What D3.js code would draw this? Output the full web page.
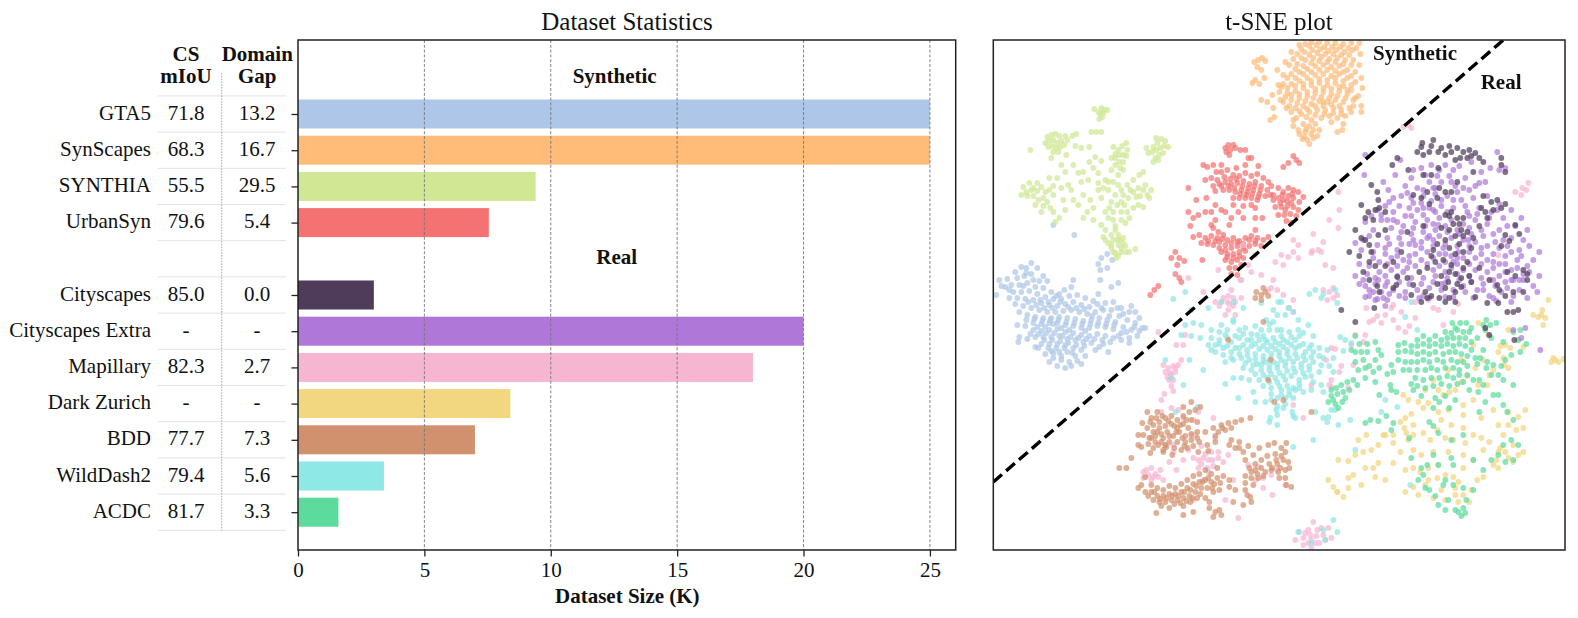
<!DOCTYPE html>
<html><head><meta charset="utf-8">
<script src="https://cdn.jsdelivr.net/npm/d3@7/dist/d3.min.js"></script>
<style>html,body{margin:0;padding:0;background:#fff}svg{display:block}text{font-family:"Liberation Serif","Times New Roman",serif;fill:#111}</style>
</head><body><svg id="c" width="1578" height="618"></svg>
<script>
const rows=["GTA5","SynScapes","SYNTHIA","UrbanSyn","","Cityscapes","Cityscapes Extra","Mapillary","Dark Zurich","BDD","WildDash2","ACDC"];
const sizes=[25,25,9.4,7.55,null,3,20,18,8.4,7,3.4,1.6];
const miou=["71.8","68.3","55.5","79.6","","85.0","-","82.3","-","77.7","79.4","81.7"];
const gap=["13.2","16.7","29.5","5.4","","0.0","-","2.7","-","7.3","5.6","3.3"];
const colors=["#aec7e8","#ffbb78","#d0e794","#f47272",null,"#4f3b5a","#af78d8","#f6b6d2","#f3d680","#d2916e","#8de8e6","#5cdc9c"];
const xTicks=[0,5,10,15,20,25];

const ptsGTA5=[[6,240],[14,239],[22,232],[28,227],[33,228],[38,223],[44,228],[50,236],[24,238],[31,236],[38,234],[46,241],[54,241],[12,247],[18,245],[26,245],[34,243],[42,247],[50,248],[58,252],[66,254],[20,252],[28,252],[36,251],[44,254],[52,257],[60,259],[68,259],[76,256],[84,255],[92,258],[100,261],[105,254],[114,214],[108,218],[105,224],[107,230],[114,228],[119,220],[60,185],[81,195],[107,240],[118,247],[125,243],[80,240],[78,247],[3,255],[16,258],[24,258],[32,259],[40,260],[48,263],[56,265],[64,266],[72,264],[80,262],[88,265],[96,267],[104,264],[112,263],[120,262],[128,268],[136,272],[142,272],[146,278],[138,266],[22,264],[30,266],[38,268],[46,270],[54,272],[62,272],[70,271],[78,270],[86,272],[94,274],[102,272],[110,270],[118,270],[126,276],[134,280],[142,283],[149,288],[26,272],[34,275],[42,277],[50,278],[58,278],[66,277],[74,278],[82,279],[90,281],[98,280],[106,278],[114,280],[122,282],[130,287],[138,290],[146,291],[152,288],[40,283],[48,284],[56,283],[64,283],[72,285],[80,286],[88,288],[96,288],[104,286],[112,287],[120,289],[128,293],[136,298],[144,296],[24,285],[32,286],[40,290],[48,291],[56,290],[64,289],[72,292],[80,293],[88,295],[96,296],[104,294],[112,296],[120,298],[128,300],[136,303],[26,297],[34,299],[25,302],[42,297],[50,297],[58,297],[66,296],[74,299],[82,300],[90,302],[98,303],[110,304],[48,304],[56,304],[64,304],[72,305],[80,308],[88,310],[45,308],[58,311],[66,312],[74,312],[82,316],[92,316],[52,314],[60,318],[68,320],[76,322],[84,321],[78,326],[88,324],[56,322],[64,326],[72,328],[42,307],[102,310],[106,307],[115,312],
[35,262],[43,265],[51,268],[59,268],[67,262],[75,267],[83,268],[91,269],[33,280],[41,279],[49,281],[57,280],[65,280],[73,282],[81,283],[89,284],[97,284],[105,283],[113,284],[121,285],[37,294],[45,294],[53,293],[61,293],[69,296],[77,297],[85,298],[93,299],[101,299],[109,300],[117,302],[125,296],[133,292],[141,287],[51,300],[59,300],[67,301],[75,303],[83,305],[91,306],[55,308],[63,308],[71,308],[79,313],[60,313],[68,316],[16,250],[30,246],[8,246],[40,240],[33,233],[47,260],[55,262],[63,256],[71,250],[116,276],[108,268],[99,276],[130,274],[124,268],[92,291],[52,287],[60,284],[68,288],[76,290],[44,287]];

const ptsSyn=[[265,20],[261,22],[269,18],[272,21],[264,27],[268,30],[262,40],[259,43],[266,44],[271,38],[277,80],[281,77],[268,60],[274,62],[279,55],[285,45],[290,35],[287,60],[293,68],[298,72],[303,78],[284,30],[292,22],[298,12],[306,5],[312,4],[318,2],[326,2],[334,3],[342,3],[350,4],[358,3],[366,3],[304,14],[311,12],[319,10],[327,9],[335,11],[343,10],[351,12],[359,10],[367,14],[296,25],[304,24],[312,20],[320,18],[328,17],[336,19],[344,18],[352,20],[360,20],[366,25],[298,34],[306,32],[314,29],[322,26],[330,25],[338,27],[346,26],[354,30],[362,32],[368,38],[290,44],[298,44],[306,41],[314,38],[322,35],[330,34],[338,36],[346,34],[354,38],[362,42],[286,52],[294,53],[302,51],[310,48],[318,45],[326,43],[334,45],[342,43],[350,46],[358,50],[290,62],[298,60],[306,58],[314,56],[322,53],[330,52],[338,54],[346,51],[354,54],[362,58],[360,66],[368,66],[302,68],[310,66],[318,64],[326,61],[334,62],[342,60],[350,62],[358,72],[348,70],[340,68],[332,70],[324,70],[316,72],[308,74],[368,72],[352,76],[344,78],[336,76],[328,78],[318,80],[300,86],[310,84],[316,86],[322,84],[326,90],[318,94],[312,92],[306,94],[314,100],[320,98],[324,96],[311,97],[316,104],[330,62],[300,80],[338,82],[350,84],[365,56],[369,48],[280,68],[349,90],[344,92],
[308,9],[316,6],[323,5],[331,7],[339,7],[347,7],[355,8],[363,8],[300,19],[308,18],[316,15],[324,13],[332,14],[340,14],[348,15],[356,15],[302,29],[310,26],[318,23],[326,21],[334,22],[342,22],[350,24],[358,25],[294,38],[302,38],[310,34],[318,32],[326,30],[334,30],[342,31],[350,32],[358,36],[288,47],[294,48],[302,46],[310,44],[318,41],[326,39],[334,40],[342,38],[350,41],[358,45],[292,57],[298,55],[306,54],[314,52],[322,49],[330,48],[338,49],[346,47],[354,50],[296,66],[304,63],[312,61],[320,58],[328,57],[336,58],[344,56],[352,58],[360,60],[306,71],[314,69],[322,66],[330,66],[338,64],[346,66],[356,68],[313,77],[322,75],[331,74],[340,73],[348,74],[305,90],[313,89],[320,90],[309,99]];

const ptsSynthia=[[101,69],[105,72],[108,68],[111,70],[114,70],[107,74],[109,77],[106,79],[110,73],[54,97],[58,95],[62,94],[66,96],[52,103],[56,101],[60,100],[64,103],[68,101],[55,107],[59,106],[63,108],[67,107],[60,112],[65,112],[71,105],[74,100],[79,96],[83,94],[72,96],[37,110],[58,118],[73,115],[82,106],[88,108],[96,107],[98,92],[103,92],[108,92],[102,117],[108,121],[153,108],[160,107],[164,103],[163,98],[168,99],[172,101],[175,107],[155,113],[159,112],[163,110],[167,108],[171,106],[162,118],[166,115],[170,113],[160,122],[165,120],[120,107],[125,110],[130,115],[129,106],[122,125],[130,130],[134,110],[130,122],[133,103],[127,128],[118,130],[112,140],[105,133],[100,128],[96,122],[90,132],[85,133],[95,140],[105,143],[110,148],[36,143],[30,147],[33,152],[40,148],[44,151],[48,147],[44,143],[28,155],[34,156],[40,156],[45,160],[50,158],[54,162],[50,166],[42,165],[57,168],[60,172],[48,172],[60,155],[68,148],[70,160],[72,170],[66,178],[62,182],[78,150],[72,132],[64,138],[56,138],[68,125],[80,125],[88,142],[90,155],[97,160],[100,168],[94,172],[85,165],[108,158],[115,150],[120,142],[128,150],[134,145],[140,140],[146,135],[150,132],[145,148],[152,145],[158,150],[154,155],[147,156],[140,152],[135,158],[128,162],[122,155],[118,162],[112,172],[120,172],[128,172],[115,178],[120,180],[128,180],[134,172],[140,168],[136,178],[100,180],[90,178],[145,165],[150,167],[112,190],[118,195],[110,197],[115,203],[118,208],[122,213],[125,205],[128,208],[132,206],[127,200],[120,200],[125,195],[122,190],[130,198],[123,218],[128,212],[133,212],[136,212],[142,209],[132,183],[122,186],[108,185],
[126,115],[122,114],[118,118],[126,122],[122,118],[133,116],[125,135],[115,142],[125,145],[130,155],[137,150],[143,157],[150,150],[156,158],[131,165],[124,165],[116,168],[105,150],[80,160],[75,145],[60,146],[56,150],[38,150],[52,152],[118,205],[112,200],[124,200],[130,203],[120,212],[125,216]];

const ptsUrban=[[235,105],[240,105],[232,108],[237,110],[242,108],[236,115],[233,112],[247,110],[252,110],[255,118],[258,118],[228,125],[220,125],[214,127],[210,125],[243,128],[252,125],[265,126],[212,140],[218,138],[224,140],[228,132],[234,130],[240,135],[246,136],[252,133],[258,136],[264,134],[270,138],[275,142],[278,146],[220,146],[226,144],[232,142],[238,144],[244,143],[250,141],[256,144],[262,142],[268,146],[274,150],[230,150],[236,150],[242,152],[248,150],[254,152],[260,150],[266,154],[272,156],[277,155],[240,158],[246,158],[252,158],[258,158],[264,160],[240,165],[250,166],[258,165],[262,168],[195,148],[203,160],[213,158],[212,172],[222,165],[228,170],[232,172],[238,178],[236,185],[245,172],[250,178],[262,178],[269,178],[195,172],[200,178],[197,186],[205,175],[218,172],[222,180],[220,188],[218,185],[225,192],[200,197],[206,195],[212,198],[218,196],[224,198],[230,195],[234,200],[240,198],[246,201],[252,198],[258,196],[264,198],[270,200],[275,197],[262,190],[208,203],[214,204],[220,205],[226,202],[232,205],[238,208],[244,206],[250,204],[256,206],[262,204],[268,206],[228,212],[234,214],[240,214],[246,212],[252,211],[232,220],[238,222],[244,220],[250,218],[236,228],[242,228],[248,225],[238,234],[244,235],[182,212],[178,218],[186,218],[191,221],[184,225],[182,234],[186,238],[188,242],[165,246],[161,250],[157,255],[209,220],[295,123],[303,120],[306,123],[300,116],[290,127],[280,155],[285,148],[290,152],[295,148],[300,150],[305,152],[310,157],[280,160],[285,158],[290,160],[295,156],[300,158],[306,162],[282,167],[288,167],[294,166],[300,167],[305,170],[285,175],[291,175],[297,174],[303,176],[293,181],[298,183],
[223,132],[231,137],[237,139],[243,139],[249,146],[255,148],[261,146],[267,150],[235,146],[241,148],[228,146],[222,151],[247,154],[253,155],[259,154],[265,157],[226,208],[232,210],[238,203],[244,202],[250,208],[256,200],[262,201],[215,201],[222,201],[229,199],[240,218],[246,216],[234,217],[289,155],[294,161],[299,154],[292,170],[298,163],[287,163]];

const ptsPurple=[[414,153],[372,115],[371,135],[390,142],[395,150],[407,120],[402,135],[418,138],[428,128],[438,125],[446,130],[456,136],[466,126],[478,122],[488,132],[504,112],[506,130],[512,128],[497,128],[486,143],[476,150],[462,146],[448,142],[436,142],[424,148],[412,146],[400,158],[392,166],[384,170],[378,176],[372,182],[394,180],[406,166],[418,158],[430,156],[442,154],[454,156],[468,160],[480,158],[494,156],[506,164],[518,170],[528,178],[534,190],[522,186],[510,178],[498,172],[486,168],[474,172],[460,168],[448,166],[436,168],[424,170],[412,176],[400,172],[388,180],[380,190],[398,188],[410,186],[422,182],[434,180],[446,178],[458,180],[470,184],[482,180],[494,184],[506,190],[518,198],[530,200],[546,212],[536,206],[526,210],[514,206],[502,202],[490,196],[478,194],[466,194],[454,192],[442,190],[430,192],[418,194],[406,198],[394,198],[384,205],[376,196],[370,200],[362,203],[368,210],[380,212],[392,208],[404,210],[416,204],[428,202],[440,200],[452,204],[464,206],[476,206],[488,208],[500,214],[512,216],[524,220],[534,226],[546,236],[530,234],[518,230],[506,224],[494,220],[482,218],[470,218],[458,216],[446,214],[434,212],[422,214],[410,220],[398,218],[386,222],[376,226],[366,224],[362,236],[374,234],[386,232],[398,230],[410,232],[422,226],[434,224],[446,226],[458,228],[470,230],[482,230],[494,232],[506,236],[518,240],[530,240],[540,246],[544,252],[526,250],[514,248],[502,246],[490,244],[478,242],[466,240],[454,238],[442,236],[430,238],[418,238],[406,242],[394,242],[382,244],[372,246],[376,256],[388,252],[400,250],[412,252],[424,250],[436,248],[448,250],[460,250],[472,252],[484,250],[496,256],[508,252],[520,256],[534,258],[390,258],[372,257],[376,250],[384,259],[394,260],[412,258],[426,258],[436,258],[452,257],[460,257],[480,258],[503,261],[518,262],[520,240],[532,288],[520,290],[528,298],[547,310],[440,170],[430,175],[445,185],[436,196],[450,208],[460,222],[440,230],[452,243],[465,212],[475,200],[422,205],[414,228],[404,182],[394,224],[382,260],[392,266],[500,258],
[420,130],[432,135],[444,136],[452,125],[460,130],[472,138],[482,146],[492,142],[470,148],[458,142],[442,148],[430,150],[420,163],[408,156],[396,162],[388,175],[400,180],[416,168],[428,163],[438,161],[448,160],[460,160],[472,166],[484,174],[496,178],[504,170],[514,186],[454,172],[442,172],[430,168],[418,176],[408,192],[420,188],[432,186],[440,184],[452,186],[464,190],[476,188],[488,190],[500,194],[510,200],[518,212],[528,216],[540,220],[396,204],[408,204],[420,200],[434,198],[446,196],[458,198],[470,200],[482,202],[494,206],[506,208],[380,218],[392,214],[404,216],[416,216],[428,208],[440,206],[452,214],[464,218],[476,212],[488,214],[500,222],[512,224],[524,228],[536,232],[370,240],[382,238],[392,236],[404,226],[416,222],[428,220],[440,218],[452,222],[464,224],[476,224],[488,224],[500,228],[512,232],[526,240],[380,252],[392,246],[404,236],[416,244],[428,244],[440,242],[452,232],[464,234],[476,236],[488,238],[500,240],[512,242],[490,250],[470,246],[448,244],[430,256],[406,256],[396,254],[385,240],[366,244],[440,148],[464,152],[476,176]];

const ptsBlack=[[429,103],[440,100],[424,112],[430,115],[436,112],[428,107],[445,112],[452,115],[458,112],[464,108],[470,112],[476,110],[482,113],[486,118],[467,118],[404,118],[399,125],[415,130],[490,122],[480,132],[508,125],[512,132],[508,118],[378,145],[384,152],[385,160],[382,170],[386,168],[392,172],[375,172],[430,135],[438,135],[446,148],[452,152],[458,152],[464,142],[434,152],[420,155],[428,158],[436,164],[444,158],[490,156],[498,162],[504,160],[508,168],[492,172],[488,168],[452,175],[458,172],[464,178],[470,178],[448,188],[456,190],[468,190],[462,196],[474,192],[480,198],[486,186],[430,186],[368,198],[362,190],[372,200],[376,205],[378,212],[385,195],[392,190],[414,192],[522,185],[512,195],[526,194],[516,201],[508,206],[466,204],[478,208],[440,210],[450,220],[458,225],[462,234],[470,228],[476,236],[478,242],[486,228],[496,240],[504,245],[514,232],[522,236],[530,230],[534,234],[356,212],[366,216],[376,222],[370,232],[382,226],[392,226],[400,222],[408,212],[404,237],[414,238],[420,245],[426,232],[434,228],[376,240],[386,252],[384,246],[400,248],[444,244],[452,248],[432,252],[438,256],[468,247],[462,252],[446,258],[452,262],[428,262],[434,258],[418,255],[462,262],[482,257],[506,250],[512,256],[520,252],[530,252],[494,263],[505,263],[381,268],[520,272],[525,270],[348,270],[362,282],[492,288],[496,295],[514,272],[456,258],[403,245],[534,240],[521,300],
[456,176],[460,184],[470,196],[466,184],[452,200],[456,208],[444,204],[462,214],[470,212],[442,222],[456,232],[468,238],[448,236],[438,216],[474,222],[464,244],[455,242],[445,128],[462,120],[474,118],[438,106],[448,108],[456,106],[478,116],[372,178],[368,165],[380,180],[500,170],[494,178],[512,164]];

const ptsCyan=[[240,262],[250,268],[268,263],[288,262],[207,298],[218,298],[226,300],[232,295],[228,285],[234,290],[240,280],[246,290],[252,288],[258,294],[264,295],[270,296],[276,290],[280,282],[284,275],[273,280],[262,286],[288,290],[292,275],[280,270],[285,262],[295,268],[300,272],[272,300],[280,298],[288,296],[296,292],[305,290],[315,285],[310,293],[320,296],[318,305],[305,280],[215,305],[222,305],[230,308],[238,302],[246,298],[254,300],[262,304],[270,306],[278,306],[286,304],[294,302],[302,300],[310,304],[320,312],[326,308],[330,318],[334,310],[222,312],[230,315],[238,312],[246,308],[254,310],[262,314],[270,316],[278,314],[286,312],[294,310],[302,308],[312,312],[232,322],[240,320],[248,318],[256,320],[264,324],[272,322],[280,322],[288,320],[296,318],[304,318],[312,320],[320,322],[328,325],[340,318],[250,328],[258,330],[268,330],[276,330],[284,328],[292,326],[300,328],[308,328],[316,330],[326,332],[340,332],[248,338],[256,340],[266,340],[274,338],[282,338],[290,336],[298,336],[306,340],[312,337],[320,342],[328,345],[240,338],[232,344],[270,346],[278,348],[286,346],[294,346],[300,348],[306,348],[288,355],[296,355],[302,350],[310,352],[318,350],[330,352],[278,360],[284,358],[292,358],[300,358],[272,362],[262,362],[245,358],[210,330],[215,268],[228,262],[188,295],[192,285],[200,283],[198,270],[192,252],[180,259],[218,290],[208,285],[198,296],[283,370],[290,368],[284,375],[277,378],[299,372],[276,382],[300,376],[260,352],[284,385],[302,378],[345,385],[357,380],[322,372],[330,378],[338,370],[320,400],[335,377],[342,370],[334,382],[362,410],[300,407],[347,297],[352,300],[358,303],[350,311],[412,277],[424,290],[316,254],[322,250],[330,254],[342,250],[344,263],[328,258],[417,445],[340,480],[332,500],[344,492],[330,490],[318,503],[305,492],[404,367],[182,372],[204,367],[190,345],[178,338],[196,320],[172,320],[240,282],[418,262],[388,372],[392,360],
[226,292],[234,298],[242,296],[250,294],[258,300],[266,300],[274,302],[282,302],[290,300],[298,297],[306,296],[284,290],[276,284],[268,290],[218,310],[226,304],[234,306],[242,308],[250,305],[258,306],[266,309],[274,310],[282,309],[290,307],[298,305],[306,306],[316,308],[326,316],[238,318],[246,314],[254,315],[262,319],[270,320],[278,318],[286,316],[294,314],[302,314],[310,316],[318,317],[252,323],[260,325],[268,325],[276,326],[284,324],[292,322],[300,322],[308,324],[316,326],[336,326],[262,334],[270,335],[278,334],[286,333],[294,331],[302,332],[310,333],[318,336],[306,344],[292,340],[284,342],[276,342],[296,351],[288,350],[278,354],[284,366],[292,364]];

const ptsPink=[[170,325],[175,328],[180,326],[185,325],[172,332],[177,333],[182,332],[176,340],[180,340],[178,346],[171,354],[180,351],[230,258],[235,256],[240,258],[228,262],[236,264],[242,262],[222,262],[248,258],[235,270],[242,275],[232,275],[290,255],[284,250],[278,248],[158,428],[150,432],[155,435],[162,434],[167,430],[150,438],[158,440],[165,437],[170,440],[210,418],[215,420],[208,424],[214,428],[220,426],[205,428],[225,418],[230,422],[235,415],[218,412],[195,410],[200,418],[190,420],[180,412],[172,405],[183,430],[176,422],[262,440],[270,438],[278,435],[284,430],[265,427],[292,445],[279,455],[270,448],[202,395],[208,406],[222,398],[178,368],[168,372],[205,372],[220,378],[310,498],[315,490],[320,482],[324,490],[330,495],[318,500],[310,505],[306,492],[335,488],[326,503],[318,508],[322,503],[338,498],[302,500],[330,250],[336,252],[340,258],[334,260],[344,255],[340,248],[300,272],[296,268],[300,260],[380,280],[376,282],[384,276],[388,283],[373,268],[392,275],[362,295],[358,305],[372,295],[360,325],[370,302],[405,288],[412,292],[416,286],[422,278],[400,280],[408,272],[398,268],[422,262],[400,265],[338,308],[342,309],[333,320],[346,332],[348,326],[355,348],[318,345],[300,365],[310,378],[338,347],[338,340],[336,345],[319,211],[325,210],[328,212],[318,213],[288,215],[295,217],[300,212],[305,218],[290,225],[282,222],[300,200],[305,205],[320,194],[336,180],[345,188],[332,225],[340,228],[415,85],[410,87],[418,88],[505,215],[497,240],[529,148],[533,150],[528,155],[522,152],[535,143],[345,152],[346,170],[330,202],[280,240],[268,235],[275,250],[255,225],[258,232],[262,215],[250,205],[248,240],[247,240],[238,250],[225,230],[210,252],[195,238],[165,292],[183,305],[190,305],[188,320],[192,295],[168,360],[185,370],[190,378],[180,405],[200,380],[198,396],[210,440],[240,440],[255,425],[435,260],[440,268],[445,270],[450,285],[460,272],[465,264],[245,478],[232,460],[200,460],
[174,337],[178,335],[182,328],[153,430],[160,437],[212,414],[219,420],[225,412],[215,432],[205,420],[312,493],[317,495],[323,496],[328,488],[315,503],[332,500],[234,262],[240,266],[226,266]];

const ptsYellow=[[555,260],[548,275],[552,278],[550,285],[545,277],[549,270],[485,283],[507,306],[512,305],[517,308],[505,312],[510,318],[511,325],[515,328],[570,319],[565,322],[562,320],[558,322],[560,318],[490,320],[482,328],[474,336],[468,342],[462,350],[456,352],[450,355],[445,350],[435,363],[430,368],[425,362],[415,360],[418,374],[412,378],[500,330],[496,335],[494,345],[485,345],[480,360],[470,375],[470,365],[455,370],[445,372],[448,380],[458,385],[470,388],[488,378],[500,370],[505,385],[510,395],[515,372],[507,408],[503,420],[515,385],[525,377],[523,390],[532,370],[530,388],[420,385],[415,400],[407,382],[411,388],[400,403],[407,412],[400,423],[390,395],[385,405],[373,395],[378,410],[385,423],[365,400],[370,412],[345,420],[355,421],[362,415],[380,428],[360,435],[382,437],[392,440],[372,428],[355,438],[368,445],[335,440],[340,447],[344,452],[350,457],[344,452],[355,448],[392,395],[400,395],[413,393],[420,395],[430,393],[437,400],[440,412],[428,415],[435,428],[445,425],[452,435],[460,437],[465,442],[470,428],[480,420],[490,410],[496,402],[505,412],[515,418],[520,422],[525,415],[530,412],[512,412],[520,405],[480,395],[472,403],[488,398],[470,415],[455,412],[444,438],[448,450],[452,460],[462,455],[470,455],[478,450],[484,440],[462,448],[440,458],[432,445],[425,455],[420,447],[412,452],[412,430],[420,428],[427,432],[435,440],[444,390],[452,398],[420,410],[460,400],[500,425],[490,437],[505,428],[476,462],[465,462],[540,275],[530,307],[525,300],[515,290],[495,295],[480,305],[468,320],[455,330],[432,350],[440,340],[410,355]];

const ptsBrown=[[268,255],[263,252],[272,252],[268,260],[275,256],[262,258],[270,248],[154,372],[158,378],[164,372],[149,383],[160,385],[166,382],[172,378],[178,376],[184,380],[190,376],[196,372],[202,370],[207,367],[154,388],[160,392],[166,388],[172,386],[178,384],[184,388],[190,384],[198,380],[204,382],[150,395],[156,398],[162,396],[168,394],[174,392],[180,396],[186,392],[192,396],[198,394],[204,392],[155,404],[162,402],[168,402],[176,402],[184,402],[192,402],[198,400],[204,398],[160,408],[170,410],[188,410],[194,408],[200,406],[206,402],[205,412],[145,405],[148,407],[157,413],[170,412],[179,415],[212,392],[220,388],[228,385],[235,383],[242,382],[248,380],[257,378],[225,392],[232,390],[238,388],[222,396],[238,400],[242,408],[236,405],[246,402],[229,388],[222,402],[214,405],[215,411],[250,412],[255,406],[246,408],[252,420],[260,415],[266,408],[275,405],[281,403],[288,408],[293,403],[262,424],[268,420],[274,416],[282,414],[288,416],[292,412],[256,428],[262,430],[268,428],[276,424],[284,424],[290,420],[295,422],[252,436],[258,438],[264,434],[270,436],[278,430],[285,432],[292,430],[296,428],[252,443],[260,445],[286,438],[292,438],[293,445],[298,447],[145,448],[152,437],[148,445],[158,445],[164,448],[170,450],[176,446],[182,448],[188,444],[194,440],[200,436],[206,434],[212,430],[218,434],[224,428],[230,436],[236,440],[152,452],[158,452],[164,456],[170,456],[176,454],[182,454],[188,452],[194,448],[200,444],[206,442],[212,440],[218,442],[224,438],[236,447],[242,450],[160,460],[166,462],[172,462],[178,460],[184,460],[190,458],[196,456],[202,452],[208,448],[214,448],[220,452],[226,450],[168,466],[176,468],[190,466],[197,462],[204,458],[212,458],[216,462],[222,472],[216,468],[226,470],[220,477],[228,475],[163,473],[190,475],[200,472],[240,462],[250,465],[257,457],[258,462],[252,450],[254,455],[133,428],[126,428],[138,418],[190,367],[198,362],[145,395],[172,405],[318,372],[281,362],[290,360],[277,320],[270,282],[275,340],[235,300],
[157,382],[163,378],[169,376],[175,381],[181,386],[187,385],[193,380],[158,398],[164,392],[170,398],[176,396],[183,392],[189,398],[195,388],[165,405],[173,407],[181,408],[191,406],[283,420],[279,428],[272,432],[265,438],[258,432],[287,428],[161,452],[155,456],[167,459],[173,458],[179,456],[185,456],[191,452],[197,450],[203,446],[209,442],[215,438],[221,444],[227,443],[181,464],[187,463],[193,461],[199,458],[207,454],[219,448]];

const ptsACDC=[[459,283],[467,283],[473,283],[478,288],[462,288],[452,292],[458,293],[464,290],[470,292],[476,292],[424,300],[430,296],[436,300],[442,296],[448,300],[454,298],[460,298],[466,298],[472,298],[478,302],[484,298],[405,305],[411,303],[418,306],[424,306],[430,304],[436,306],[442,304],[448,306],[454,304],[460,306],[466,304],[472,306],[478,310],[405,312],[412,311],[418,312],[424,314],[430,312],[436,314],[442,312],[450,314],[456,312],[462,312],[468,314],[474,316],[482,318],[398,325],[405,320],[412,322],[418,322],[424,322],[430,320],[436,322],[444,320],[450,322],[458,320],[464,322],[470,322],[490,310],[410,330],[416,330],[424,330],[432,330],[438,328],[444,330],[452,328],[460,328],[466,330],[474,326],[400,332],[394,334],[422,338],[430,340],[438,338],[446,338],[454,336],[460,338],[466,335],[474,335],[480,340],[418,344],[424,346],[432,348],[440,346],[448,344],[456,346],[464,344],[470,342],[397,345],[398,350],[403,352],[420,350],[428,356],[362,296],[366,304],[358,310],[362,312],[368,312],[374,304],[374,312],[382,302],[385,310],[382,320],[388,315],[362,322],[370,320],[372,328],[365,330],[376,326],[380,332],[386,328],[360,340],[354,342],[348,345],[343,348],[338,350],[344,354],[350,352],[356,350],[340,360],[335,362],[342,364],[349,362],[345,368],[352,358],[338,356],[364,345],[372,338],[382,342],[386,355],[490,285],[493,280],[497,285],[503,283],[492,290],[498,298],[510,302],[520,292],[527,290],[525,300],[533,304],[527,312],[518,315],[512,320],[508,326],[487,318],[494,322],[500,325],[484,324],[493,328],[486,340],[476,350],[485,352],[490,345],[498,335],[505,335],[510,340],[442,358],[446,362],[452,356],[462,360],[456,368],[440,368],[500,355],[492,362],[486,372],[505,355],[510,365],[520,345],[514,372],[520,380],[377,380],[385,381],[393,376],[372,383],[400,383],[416,398],[398,390],[436,382],[440,386],[445,393],[458,400],[458,418],[434,425],[440,415],[418,418],[428,428],[430,435],[445,425],[450,445],[436,450],[442,456],[445,465],[452,440],[460,445],[465,472],[470,468],[462,470],[468,476],[472,473],[425,440],[432,448],[505,415],[512,422],[520,420],[525,405],[518,400],[510,405],[470,395],[480,420],[490,430],[498,420],[460,425],[470,448],[480,450],[455,460],[452,470],[473,460]];

const boundary=[[0,442],[510,0]];
const tsneClusters=[[ptsGTA5,0],[ptsSyn,1],[ptsSynthia,2],[ptsUrban,3],[ptsPink,7],[ptsCyan,10],[ptsBrown,9],[ptsYellow,8],[ptsACDC,11],[ptsPurple,6],[ptsBlack,5]];

const svg=d3.select("#c");
const L=298,R=955.7,T=40,B=550,TL=993.3,TR=1565;
const x=d3.scaleLinear().domain([0,26.02]).range([L,R]);
const yS=d3.scaleLinear().domain([0,11]).range([114,512.2]);

function txt(g,s,xp,yp,a,size,bold){return g.append("text").attr("x",xp).attr("y",yp).attr("text-anchor",a).attr("font-size",size).attr("font-weight",bold?"bold":"normal").text(s);}

// table
const tbl=svg.append("g");
d3.range(13).forEach(i=>tbl.append("line").attr("x1",157.7).attr("x2",286).attr("y1",yS(i-.5)).attr("y2",yS(i-.5)).attr("stroke","#e3e3e3").attr("stroke-width",1));
tbl.append("line").attr("x1",221.7).attr("x2",221.7).attr("y1",73).attr("y2",yS(11.5)).attr("stroke","#aaa").attr("stroke-width",1).attr("stroke-dasharray","1.6,1.2");
rows.forEach((r,i)=>{const b=yS(i)+5.6;
 if(!r)return;
 txt(tbl,r,151,b,"end",21);
 txt(tbl,miou[i],186,b,"middle",21);
 txt(tbl,gap[i],257,b,"middle",21);
});
txt(tbl,"CS",186,60.7,"middle",21,true);txt(tbl,"mIoU",186,82.7,"middle",21,true);
txt(tbl,"Domain",257.3,60.7,"middle",21,true);txt(tbl,"Gap",257.3,82.7,"middle",21,true);

// bars
const bars=svg.append("g");
bars.selectAll("rect").data(rows.map((r,i)=>({r,i,v:sizes[i],c:colors[i]})).filter(d=>d.v!=null)).join("rect")
 .attr("x",x(0)).attr("y",d=>yS(d.i)-14.5).attr("width",d=>x(d.v)-x(0)).attr("height",29).attr("fill",d=>d.c);
// grid
const gr=svg.append("g");
xTicks.slice(1).forEach(t=>gr.append("line").attr("x1",x(t)).attr("x2",x(t)).attr("y1",T).attr("y2",B).attr("stroke","#777").attr("stroke-width",.9).attr("stroke-dasharray","3,1.8"));
// axes
const ax=svg.append("g").attr("transform",`translate(0,${B})`).call(d3.axisBottom(x).tickValues(xTicks).tickSize(6.5).tickPadding(6).tickFormat(d3.format("d")));
ax.select(".domain").remove();
ax.selectAll("line").attr("stroke","#222").attr("stroke-width",1.3);
ax.selectAll("text").attr("font-size",21).attr("fill","#111");
const ay=svg.append("g").attr("transform",`translate(${L},0)`).call(d3.axisLeft(yS).tickValues(rows.map((r,i)=>r?i:null).filter(v=>v!==null)).tickSize(6.5).tickFormat(""));
ay.select(".domain").remove();
ay.selectAll("line").attr("stroke","#222").attr("stroke-width",1.3);
svg.append("rect").attr("x",L).attr("y",T).attr("width",R-L).attr("height",B-T).attr("fill","none").attr("stroke","#222").attr("stroke-width",1.5);
txt(svg,"Dataset Statistics",627,30,"middle",25);
txt(svg,"Synthetic",614.7,82.7,"middle",21,true);
txt(svg,"Real",616.7,264,"middle",21,true);
txt(svg,"Dataset Size (K)",627.3,602.7,"middle",21,true);

// t-SNE
const sx=d3.scaleLinear().domain([0,571.7]).range([TL,TR]);
const sy=d3.scaleLinear().domain([0,510]).range([T,B]);
const defs=svg.append("defs");
defs.append("clipPath").attr("id","tc").append("rect").attr("x",TL).attr("y",T).attr("width",TR-TL).attr("height",B-T);
defs.append("filter").attr("id","soft").append("feGaussianBlur").attr("stdDeviation",.55);
const sg=svg.append("g").attr("clip-path","url(#tc)");
const dots=sg.append("g").attr("filter","url(#soft)");
tsneClusters.forEach(([pts,ci])=>{
 dots.append("g").selectAll("circle").data(pts).join("circle").attr("cx",d=>sx(d[0])).attr("cy",d=>sy(d[1])).attr("r",2.9).attr("fill",colors[ci]).attr("opacity",.72);
});
sg.append("path").attr("d",d3.line().x(d=>sx(d[0])).y(d=>sy(d[1]))(boundary)).attr("fill","none").attr("stroke","#000").attr("stroke-width",3.4).attr("stroke-dasharray","11.5,5.5");
svg.append("rect").attr("x",TL).attr("y",T).attr("width",TR-TL).attr("height",B-T).attr("fill","none").attr("stroke","#222").attr("stroke-width",1.5);
txt(svg,"t-SNE plot",1279,30,"middle",25);
txt(svg,"Synthetic",1373,60,"start",21,true);
txt(svg,"Real",1480.7,89.3,"start",21,true);
</script></body></html>
